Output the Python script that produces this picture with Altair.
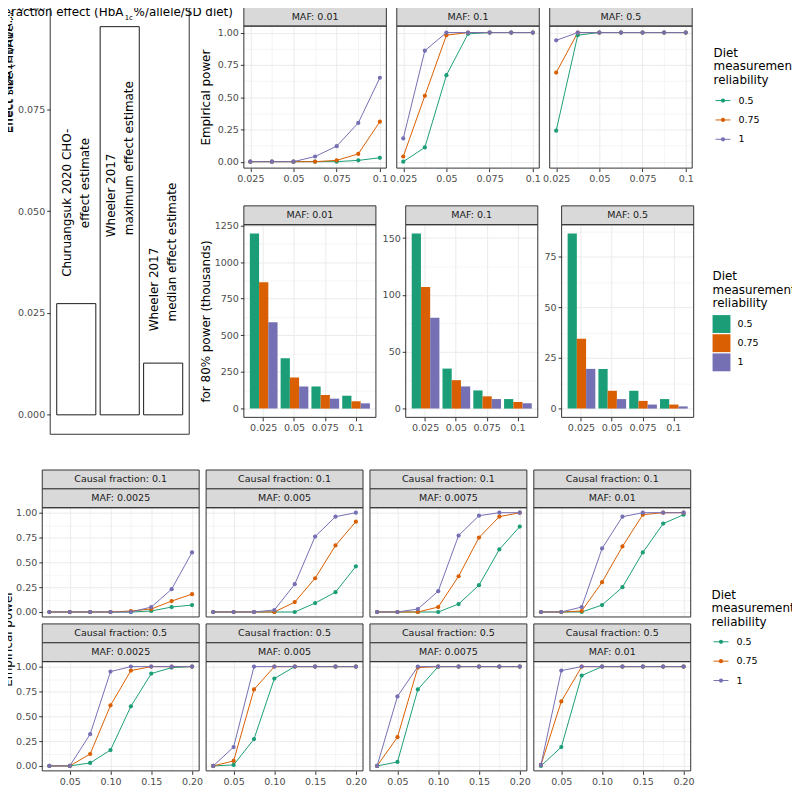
import altair as alt
import pandas as pd

FONT = "DejaVu Sans"

# ---------------- shared categories ----------------
reliability = ["0.5", "0.75", "1"]
palette = ["#1B9E77", "#D95F02", "#7570B3"]
legend_title = "Diet\nmeasurement\nreliability"

# ---------------- panel A: published effect estimates ----------------
studies = ["Churuangsuk 2020 CHO-effect estimate",
           "Wheeler 2017 maximum effect estimate",
           "Wheeler 2017 median effect estimate"]
study_label_lines = [["Churuangsuk 2020 CHO-", "effect estimate"],
                     ["Wheeler 2017", "maximum effect estimate"],
                     ["Wheeler 2017", "median effect estimate"]]
study_effect = [0.0273, 0.0953, 0.0127]
effect_ticks = [0.0, 0.025, 0.05, 0.075, 0.1]
panel_a_title = ["Interaction effect (HbA", "1c", "%/allele/SD diet)"]
panel_a_ytitles = ["Effect size (HbA1c %/allele/SD diet)", "Effect HbA1c (HbA1c %/allele/SD diet)"]

# ---------------- panel B: empirical power ----------------
effect_b = [0.025, 0.0375, 0.05, 0.0625, 0.075, 0.0875, 0.1]
maf_b = ["0.01", "0.1", "0.5"]
power_b = {
    "0.01": {"0.5": [0, 0, 0, 0, 0, 0.01, 0.03],
             "0.75": [0, 0, 0, 0, 0.01, 0.06, 0.31],
             "1": [0, 0, 0, 0.04, 0.12, 0.30, 0.65]},
    "0.1": {"0.5": [0, 0.11, 0.67, 0.99, 1, 1, 1],
            "0.75": [0.04, 0.51, 0.98, 1, 1, 1, 1],
            "1": [0.18, 0.86, 1, 1, 1, 1, 1]},
    "0.5": {"0.5": [0.24, 0.98, 1, 1, 1, 1, 1],
            "0.75": [0.69, 1, 1, 1, 1, 1, 1],
            "1": [0.94, 1, 1, 1, 1, 1, 1]},
}

# ---------------- panel C: sample size for 80% power (thousands) ----------------
effect_c = ["0.025", "0.05", "0.075", "0.1"]
n80_c = {
    "0.01": {"0.5": [1195, 343, 151, 88], "0.75": [862, 212, 93, 50], "1": [589, 151, 68, 36]},
    "0.1": {"0.5": [154, 35.2, 16, 8.4], "0.75": [106.9, 25, 10.8, 5.8], "1": [79.8, 19.5, 8.4, 4.7]},
    "0.5": {"0.5": [86.4, 19.6, 8.8, 4.7], "0.75": [34.5, 8.8, 3.8, 2.0], "1": [19.6, 4.7, 2.0, 1.1]},
}
ymajor_c = {"0.01": [0, 250, 500, 750, 1000, 1250], "0.1": [0, 50, 100, 150], "0.5": [0, 25, 50, 75]}
yminor_c = {"0.01": [125, 375, 625, 875, 1125], "0.1": [25, 75, 125], "0.5": [12.5, 37.5, 62.5, 87.5]}

# ---------------- panel D: empirical power, causal fraction x MAF ----------------
effect_d = [0.025, 0.05, 0.075, 0.1, 0.125, 0.15, 0.175, 0.2]
causal_d = ["0.1", "0.5"]
maf_d = ["0.0025", "0.005", "0.0075", "0.01"]
power_d = {
    ("0.1", "0.0025"): {"0.5": [0, 0, 0, 0, 0, 0.01, 0.05, 0.07],
                        "0.75": [0, 0, 0, 0, 0.01, 0.03, 0.11, 0.18],
                        "1": [0, 0, 0, 0, 0, 0.05, 0.23, 0.60]},
    ("0.1", "0.005"): {"0.5": [0, 0, 0, 0, 0, 0.09, 0.20, 0.46],
                       "0.75": [0, 0, 0, 0, 0.10, 0.34, 0.67, 0.91],
                       "1": [0, 0, 0, 0.02, 0.28, 0.76, 0.96, 1.0]},
    ("0.1", "0.0075"): {"0.5": [0, 0, 0, 0, 0.08, 0.27, 0.63, 0.86],
                        "0.75": [0, 0, 0, 0.05, 0.36, 0.75, 0.96, 1.0],
                        "1": [0, 0, 0.03, 0.21, 0.77, 0.97, 1, 1]},
    ("0.1", "0.01"): {"0.5": [0, 0, 0, 0.07, 0.25, 0.60, 0.89, 0.98],
                      "0.75": [0, 0, 0.01, 0.30, 0.66, 0.98, 1, 1],
                      "1": [0, 0, 0.05, 0.64, 0.96, 1, 1, 1]},
    ("0.5", "0.0025"): {"0.5": [0, 0, 0.03, 0.16, 0.60, 0.93, 0.99, 1],
                        "0.75": [0, 0, 0.12, 0.61, 0.96, 1, 1, 1],
                        "1": [0, 0, 0.32, 0.95, 1, 1, 1, 1]},
    ("0.5", "0.005"): {"0.5": [0, 0.01, 0.27, 0.88, 1, 1, 1, 1],
                       "0.75": [0, 0.05, 0.77, 1, 1, 1, 1, 1],
                       "1": [0, 0.19, 1, 1, 1, 1, 1, 1]},
    ("0.5", "0.0075"): {"0.5": [0, 0.04, 0.77, 1, 1, 1, 1, 1],
                        "0.75": [0, 0.29, 0.99, 1, 1, 1, 1, 1],
                        "1": [0, 0.70, 1, 1, 1, 1, 1, 1]},
    ("0.5", "0.01"): {"0.5": [0, 0.19, 0.91, 1, 1, 1, 1, 1],
                      "0.75": [0.01, 0.65, 1, 1, 1, 1, 1, 1],
                      "1": [0.01, 0.96, 1, 1, 1, 1, 1, 1]},
}

# axis breaks
power_major = [0, 0.25, 0.5, 0.75, 1]
power_minor = [0.125, 0.375, 0.625, 0.875]
xb_major = [0.025, 0.05, 0.075, 0.1]
xb_minor = [0.0375, 0.0625, 0.0875]
xd_major = [0.05, 0.1, 0.15, 0.2]
xd_minor = [0.025, 0.075, 0.125, 0.175]

# ---------------- styling ----------------
STRIP_H = 19
BORDER = "#333333"
STRIP_FILL = "#D9D9D9"
COLOR = alt.Color("rel:N", scale=alt.Scale(domain=reliability, range=palette), legend=None)


def long_df(xs, series):
    rows = []
    for r in reliability:
        for xv, yv in zip(xs, series[r]):
            rows.append({"x": xv, "y": yv, "rel": r})
    return pd.DataFrame(rows)


def expanded(lo, hi):
    span = hi - lo
    return [lo - 0.05 * span, hi + 0.05 * span]


def qaxis(major, minor, fmt, labels=True, title=None, title_pad=3):
    test = "indexof([" + ",".join(str(float(v)) for v in major) + "], datum.value) >= 0"
    return alt.Axis(values=sorted(major + minor), format=fmt,
                    labelExpr=f"({test}) ? datum.label : ''",
                    labels=labels, ticks=labels, title=title, titlePadding=title_pad,
                    grid=True, labelOverlap=False,
                    tickOpacity={"condition": {"test": test, "value": 1}, "value": 0},
                    gridWidth={"condition": {"test": test, "value": 1}, "value": 0.5})


def frame_layers(x0, x1, y0, y1, strip_labels):
    layers = []
    n = len(strip_labels)
    for k, lab in enumerate(strip_labels):
        top = y0 - (n - k) * STRIP_H
        d = pd.DataFrame({"lab": [lab]})
        layers.append(alt.Chart(d).mark_rect(fill=STRIP_FILL, stroke=BORDER, strokeWidth=1).encode(
            x=alt.value(x0), x2=alt.value(x1), y=alt.value(top), y2=alt.value(top + STRIP_H)))
        layers.append(alt.Chart(d).mark_text(font=FONT, fontSize=9.6, color="#1A1A1A").encode(
            x=alt.value((x0 + x1) / 2), y=alt.value(top + STRIP_H / 2), text="lab:N"))
    d0 = pd.DataFrame({"b": [0]})
    layers.append(alt.Chart(d0).mark_rect(fillOpacity=0, stroke=BORDER, strokeWidth=1).encode(
        x=alt.value(x0), x2=alt.value(x1), y=alt.value(y0), y2=alt.value(y1)))
    return layers


def line_panel(df, width, height, xsc, ysc, xax, yax, strips, extra=()):
    enc = dict(x=alt.X("x:Q", scale=xsc, axis=xax), y=alt.Y("y:Q", scale=ysc, axis=yax), color=COLOR)
    lines = alt.Chart(df).mark_line(strokeWidth=1).encode(**enc)
    pts = alt.Chart(df).mark_circle(size=18, opacity=1).encode(**enc)
    return alt.layer(lines, pts, *frame_layers(0, width, 0, height, strips), *extra).properties(
        width=width, height=height)


def legend_cell(kind, title_first, first, step):
    d = pd.DataFrame({"rel": reliability, "i": list(range(len(reliability)))})
    base = alt.Chart(d).transform_calculate(py=f"{first} + datum.i * {step}")
    Y = alt.Y("py:Q", scale=None, axis=None)
    layers = [alt.Chart(pd.DataFrame({"t": [legend_title]})).mark_text(
        align="left", baseline="middle", lineBreak="\n", lineHeight=13.5, fontSize=12,
        font=FONT, color="black").encode(x=alt.value(0), y=alt.value(title_first), text="t:N")]
    if kind == "line":
        layers.append(base.mark_rule(strokeWidth=1).encode(x=alt.value(2), x2=alt.value(17), y=Y, color=COLOR))
        layers.append(base.mark_circle(size=18, opacity=1).encode(x=alt.value(9.5), y=Y, color=COLOR))
    else:
        layers.append(base.mark_square(size=324, opacity=1).encode(x=alt.value(9), y=Y, color=COLOR))
    layers.append(base.mark_text(align="left", baseline="middle", fontSize=9.6, font=FONT,
                                 color="black").encode(x=alt.value(25), y=Y, text="rel:N"))
    return alt.layer(*layers).properties(width=10, height=10)


# ---------------- panel A ----------------
# the panel's group origin sits at the corner shared with the lower grid; the data
# rectangle is shifted inside it (left inset AX, top raised by AY)
AX, AY = 8, 19
A_W, A_H = 140, 430
dfA = pd.DataFrame({"study": studies, "effect": study_effect})
XS_A = alt.Scale(paddingInner=0.1, paddingOuter=0.15, range=[AX, AX + A_W])
YS_A = alt.Scale(domain=expanded(0, max(study_effect)), nice=False, zero=False,
                 range=[A_H - AY, -AY])
YAX_A = alt.Axis(values=effect_ticks, format=".3f", grid=False, title=None, labelOverlap=False,
                 offset=-AX)
XA = alt.X("study:N", sort=studies, scale=XS_A, axis=None)
YA = alt.Y("effect:Q", scale=YS_A, axis=YAX_A)

a_layers = [alt.Chart(dfA).mark_bar(fill="white", stroke="#1A1A1A", strokeWidth=1).encode(
    x=XA, y=YA, y2=alt.datum(0))]
LABEL_LIFT = [[27, 76], [-212, -210], [32, 42]]   # px along the text from the bar top
LABEL_SHIFT = [-9, 9]
for i, lines in enumerate(study_label_lines):
    for k, line in enumerate(lines):
        d = pd.DataFrame({"study": [studies[i]], "effect": [study_effect[i]], "line": [line]})
        a_layers.append(alt.Chart(d).mark_text(
            angle=270, align="left", baseline="middle", fontSize=12, font=FONT, color="black",
            dx=LABEL_LIFT[i][k], dy=LABEL_SHIFT[k]).encode(x=XA, y=YA, text="line:N"))
a_layers += frame_layers(AX, AX + A_W, -AY, A_H - AY, [])
for t, xx, yy, fs in zip(panel_a_title, [-54.8, 83, 92], [-10, -6, -10], [12, 7, 12]):
    a_layers.append(alt.Chart(pd.DataFrame({"t": [t]})).mark_text(
        align="left", baseline="alphabetic", fontSize=fs, font=FONT, color="black").encode(
        x=alt.value(xx), y=alt.value(yy), text="t:N"))
for t, xx in zip(panel_a_ytitles, [-33, -34]):
    a_layers.append(alt.Chart(pd.DataFrame({"t": [t]})).mark_text(
        angle=270, align="left", baseline="middle", fontSize=12, font=FONT, color="black",
        limit=130, ellipsis="").encode(x=alt.value(xx), y=alt.value(108), text="t:N"))
left_panel = alt.layer(*a_layers).properties(width=AX + A_W, height=A_H - AY)

# ---------------- panel B ----------------
XS_B = alt.Scale(domain=expanded(min(effect_b), max(effect_b)), nice=False, zero=False)
YS_P = alt.Scale(domain=expanded(0, 1), nice=False, zero=False)
lp = []
for j, m in enumerate(maf_b):
    yax = qaxis(power_major, power_minor, ".2f", labels=(j == 0),
                title="Empirical power" if j == 0 else None, title_pad=5)
    xax = qaxis(xb_major, xb_minor, ".3~g", True)
    lp.append(line_panel(long_df(effect_b, power_b[m]), 143.5, 143, XS_B, YS_P, xax, yax, [f"MAF: {m}"]))
line_group = alt.hconcat(*lp, spacing=10, bounds="flush")
line_row = alt.hconcat(line_group, legend_cell("line", 27, 75, 19.5), spacing=20)

# ---------------- panel C ----------------
bp = []
for j, m in enumerate(maf_b):
    dfc = long_df(effect_c, n80_c[m])
    ymax = max(max(v) for v in n80_c[m].values())
    ysc = alt.Scale(domain=expanded(0, ymax), nice=False, zero=False)
    xsc = alt.Scale(paddingInner=0.1, paddingOuter=0.195)
    xax = alt.Axis(title=None, grid=True, bandPosition=0.5, labelAngle=0)
    yax = qaxis(ymajor_c[m], yminor_c[m], "d", True,
                "for 80% power (thousands)" if j == 0 else None, 2)
    bars = alt.Chart(dfc).mark_bar().encode(
        x=alt.X("x:N", sort=effect_c, scale=xsc, axis=xax),
        xOffset=alt.XOffset("rel:N", sort=reliability),
        y=alt.Y("y:Q", scale=ysc, axis=yax), y2=alt.datum(0), color=COLOR)
    bp.append(alt.layer(bars, *frame_layers(0, 133, 0, 194, [f"MAF: {m}"])).properties(width=133, height=194))
bar_group = alt.hconcat(*bp, spacing=5)
bar_row = alt.hconcat(bar_group, legend_cell("bar", 52, 100, 19.3), spacing=18)

right_col = alt.vconcat(line_row, bar_row, spacing=21)
top_block = alt.hconcat(left_panel, right_col, spacing=-35)

# ---------------- panel D ----------------
XS_D = alt.Scale(domain=expanded(min(effect_d), max(effect_d)), nice=False, zero=False)
cells = []
for r, c in enumerate(causal_d):
    for j, m in enumerate(maf_d):
        yax = qaxis(power_major, power_minor, ".2f", labels=(j == 0))
        xax = qaxis(xd_major, xd_minor, ".2f", labels=(r == 1))
        extra = []
        if r == 1 and j == 0:
            extra.append(alt.Chart(pd.DataFrame({"t": ["Empirical power"]})).mark_text(
                angle=270, fontSize=12, font=FONT, color="black", align="center", baseline="middle").encode(
                x=alt.value(-34), y=alt.value(-23), text="t:N"))
        cells.append(line_panel(long_df(effect_d, power_d[(c, m)]), 158, 110, XS_D, YS_P, xax, yax,
                                [f"Causal fraction: {c}", f"MAF: {m}"], extra))
grid = alt.concat(*cells, columns=4, spacing={"row": 45, "column": 7}, bounds="flush")
bottom_block = alt.hconcat(grid, legend_cell("line", 88, 135, 19.5), spacing=17)

chart = alt.vconcat(top_block, bottom_block, spacing=16).properties(
    padding={"left": -20.5, "top": -8.5, "right": -5, "bottom": 0}
).configure(font=FONT).configure_view(strokeWidth=0).configure_axis(
    labelFont=FONT, titleFont=FONT, labelFontSize=9.6, labelColor="#4D4D4D",
    tickColor="#333333", tickSize=3.5, tickWidth=1, domain=False, gridColor="#EBEBEB",
    titleFontSize=12, titleFontWeight="normal", titleColor="black", labelPadding=2)

chart.save("out.html", embed_options={"renderer": "svg", "actions": False})
